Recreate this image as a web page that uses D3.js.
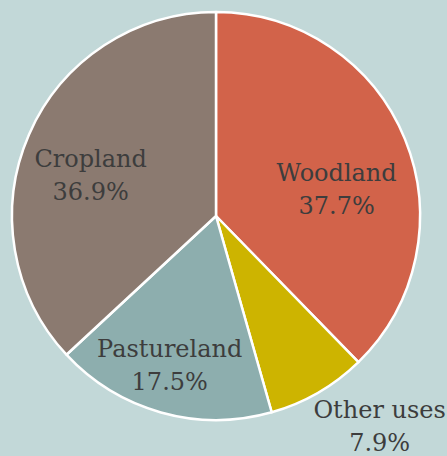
<!DOCTYPE html>
<html>
<head>
<meta charset="utf-8">
<script src="https://cdn.jsdelivr.net/npm/d3@7"></script>
<style>
  html, body { margin: 0; padding: 0; background: #c2d8d8; }
  svg { display: block; }
</style>
</head>
<body>
<svg id="chart" width="447" height="456"></svg>
<script>
const categories = ["Woodland", "Other uses", "Pastureland", "Cropland"];
const values = [37.7, 7.9, 17.5, 36.9];
const valueLabels = ["37.7%", "7.9%", "17.5%", "36.9%"];
const colors = ["#d2634a", "#cdb400", "#8daeae", "#8b7a70"];
// label nudges from arc centroid (dx, dy)
const labelNudgeX = [3, 100, -12, -9];
const labelNudgeY = [13, 92, 19, 2];

const W = 447, H = 456;
const cx = 216, cy = 216, R = 204;
const svg = d3.select("#chart");
svg.append("rect").attr("width", W).attr("height", H).attr("fill", "#c2d8d8");

const data = categories.map((c, i) => ({ cat: c, value: values[i], label: valueLabels[i], i }));
const pie = d3.pie().sort(null).value(d => d.value);
const arcs = pie(data);
const arc = d3.arc().innerRadius(0).outerRadius(R);
const labelArc = d3.arc().innerRadius(127).outerRadius(127);

const g = svg.append("g").attr("transform", `translate(${cx},${cy})`);
g.selectAll("path").data(arcs).join("path")
  .attr("d", arc)
  .attr("fill", d => colors[d.data.i])
  .attr("stroke", "#ffffff")
  .attr("stroke-width", 2.5)
  .attr("stroke-linejoin", "round");

const t = g.selectAll("text").data(arcs).join("text")
  .attr("text-anchor", "middle")
  .attr("font-family", "'DejaVu Serif', serif")
  .attr("font-size", 24)
  .attr("fill", "#3d3d3d")
  .attr("transform", d => {
    const [x, y] = labelArc.centroid(d);
    return `translate(${x + labelNudgeX[d.data.i]},${y + labelNudgeY[d.data.i]})`;
  });
t.append("tspan").attr("x", 0).attr("y", 0).text(d => d.data.cat);
t.append("tspan").attr("x", 0).attr("y", 33).text(d => d.data.label);
</script>
</body>
</html>
